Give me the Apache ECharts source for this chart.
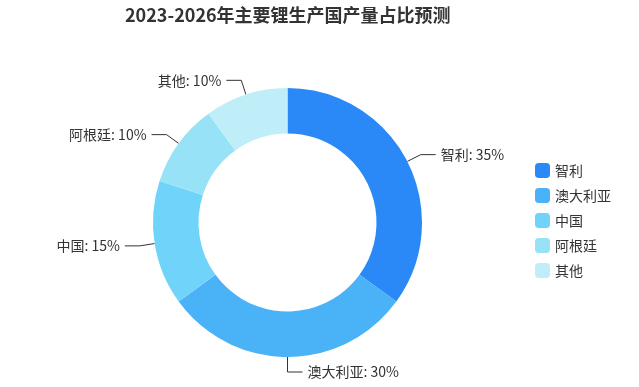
<!DOCTYPE html>
<html><head><meta charset="utf-8">
<script src="https://cdn.jsdelivr.net/npm/echarts@6/dist/echarts.min.js"></script>
<style>html,body{margin:0;padding:0;background:#fff}#c{width:639px;height:387px}</style>
</head><body><div id="c"></div>
<script>
const titleText = '2023-2026年主要锂生产国产量占比预测';
const categories = ['智利', '澳大利亚', '中国', '阿根廷', '其他'];
const values = [35, 30, 15, 10, 10];
const colors = ['#2A89F6', '#4AB2F7', '#70D3F9', '#98E2F8', '#C0EEF8'];

const chart = echarts.init(document.getElementById('c'));
chart.setOption({
  animation: false,
  color: colors,
  title: {
    text: titleText,
    left: 120, top: 1,
    textStyle: { fontSize: 18, fontWeight: 'bold', color: '#333', fontFamily: '"Noto Sans CJK SC", sans-serif' }
  },
  legend: {
    orient: 'vertical',
    left: 530, top: 158,
    icon: 'roundRect',
    itemWidth: 15, itemHeight: 15, itemGap: 10,
    textStyle: { fontSize: 14, color: '#333', fontFamily: '"Noto Sans CJK SC", sans-serif' },
    data: categories
  },
  series: [{
    type: 'pie',
    center: [287.5, 222.5],
    radius: [89, 134.5],
    startAngle: 90,
    avoidLabelOverlap: true,
    label: {
      formatter: '{b}: {d}%',
      fontSize: 14, color: '#333',
      fontFamily: '"Noto Sans CJK SC", sans-serif'
    },
    labelLine: { length: 15, length2: 15, lineStyle: { color: '#333', width: 1 } },
    data: categories.map((n, i) => ({ name: n, value: values[i] }))
  }]
});
</script></body></html>
